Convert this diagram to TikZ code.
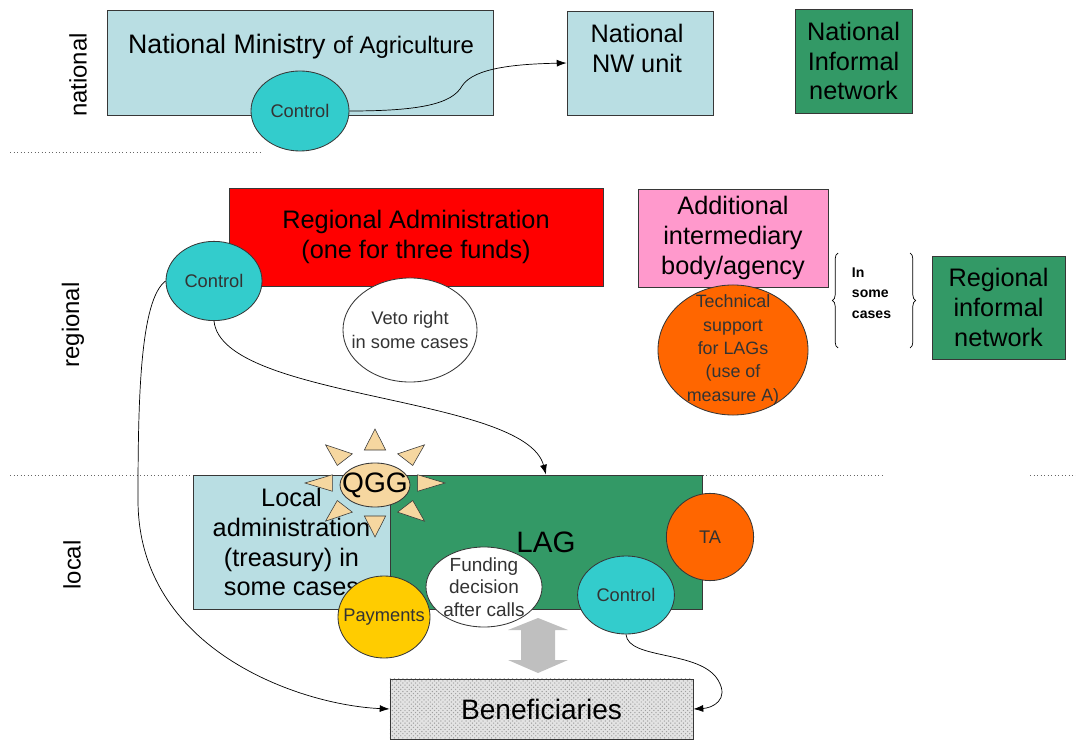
\documentclass[tikz,border=0pt]{standalone}
\usepackage{fontspec}
\setmainfont{Liberation Sans}
\usetikzlibrary{arrows.meta,shapes.geometric,patterns,decorations.pathreplacing}

\definecolor{paleblue}{RGB}{185,222,227}
\definecolor{lagreen}{RGB}{51,153,102}
\definecolor{ctrlteal}{RGB}{51,204,204}
\definecolor{pinkbox}{RGB}{255,153,204}
\definecolor{orangeball}{RGB}{255,102,0}
\definecolor{payyellow}{RGB}{255,204,0}
\definecolor{sunbeige}{RGB}{246,215,160}
\definecolor{edge}{RGB}{55,55,55}

\tikzset{
  box/.style={draw=edge, line width=0.6pt, inner sep=0pt, align=center},
  bubble/.style={ellipse, draw=edge, line width=0.6pt, inner sep=0pt},
  txt/.style={align=center, inner sep=0pt, text=black!80, font=\fontsize{13}{16.5}\selectfont},
  big/.style={font=\fontsize{18}{21.3}\selectfont},
  flow/.style={-{Latex[length=7pt,width=5pt]}, line width=0.5pt},
  level/.style={rotate=90, font=\fontsize{17}{20}\selectfont},
  sep/.style={dotted, line width=0.5pt, black!60},
  ray/.style={fill=sunbeige, draw=edge, line width=0.4pt},
}

\begin{document}
\begin{tikzpicture}[x=0.025cm, y=-0.025cm]
\useasboundingbox (0,0) rectangle (1076,740);

\draw[sep] (10,152) -- (260,152);
\draw[sep] (10,475) -- (885,475);
\draw[sep] (1030,475) -- (1076,475);

\node[level] (lnat) at (78,75) {national};
\node[level] (lreg) at (73,325) {regional};
\node[level] (lloc) at (72,565) {local};

% national level
\node[box, fill=paleblue, minimum width=9.65cm, minimum height=2.625cm] (ministry) at (300,62.5) {};
\node[font=\fontsize{19}{22}\selectfont] (ministrytxt) at (301,47)
  {National Ministry {\fontsize{17}{20}\selectfont of Agriculture}};
\node[box, fill=paleblue, minimum width=3.65cm, minimum height=2.6cm] (nwunit) at (640,63) {};
\node[big, align=center] (nwtxt) at (637,48) {National\\NW unit};
\node[box, big, fill=lagreen, minimum width=2.925cm, minimum height=2.6cm] (natnet) at (853.5,61)
  {National\\Informal\\network};
\node[bubble, fill=ctrlteal, minimum width=2.45cm, minimum height=2cm,
  label={[txt]center:Control}] (natctrl) at (300,111) {};

% regional level
\node[box, big, fill=red, minimum width=9.35cm, minimum height=2.45cm] (regadmin) at (416,237)
  {Regional Administration\\(one for three funds)};
\node[box, big, fill=pinkbox, minimum width=4.75cm, minimum height=2.45cm] (addbody) at (733,238)
  {Additional\\intermediary\\body/agency};
\node[box, big, fill=lagreen, minimum width=3.325cm, minimum height=2.575cm] (regnet) at (998.5,307.5)
  {Regional\\informal\\network};
\node[bubble, fill=ctrlteal, minimum width=2.4cm, minimum height=1.98cm,
  label={[txt]center:Control}] (regctrl) at (214,281) {};
\node[bubble, fill=white, minimum width=3.35cm, minimum height=2.6cm,
  label={[txt]center:Veto right\\in some cases}] (veto) at (410,330) {};
\node[bubble, fill=orangeball, minimum width=3.75cm, minimum height=3.25cm,
  label={[txt, font=\fontsize{12.7}{16.6}\selectfont]center:Technical\\support\\for LAGs\\(use of\\measure A)}]
  (techsup) at (733,350) {};
\draw[decorate, decoration={brace, amplitude=4pt}, line width=0.5pt] (838,348) -- (838,253);
\draw[decorate, decoration={brace, amplitude=4pt}, line width=0.5pt] (910,253) -- (910,348);
\node[anchor=west, align=left, font=\bfseries\fontsize{10}{14.5}\selectfont] (somecases) at (847,293)
  {In\\some\\cases};

% local level
\node[box, big, fill=paleblue, minimum width=4.925cm, minimum height=3.35cm] (localadm) at (291.5,542)
  {Local\\administration\\(treasury) in\\some cases};
\node[box, fill=lagreen, minimum width=7.8cm, minimum height=3.35cm,
  font=\fontsize{21}{24}\selectfont] (lag) at (546,542) {LAG};
\node[box, minimum width=7.575cm, minimum height=1.5cm, preaction={fill=gray!22},
  pattern=crosshatch dots, pattern color=gray!75, font=\fontsize{20}{24}\selectfont]
  (benef) at (541.5,709) {Beneficiaries};

\coordinate (sun) at (375,483);
\foreach \a in {0,45,...,315}
  \draw[ray, shift={(sun)}] (\a:70 and 54) -- (\a+14:44 and 34) -- (\a-14:44 and 34) -- cycle;
\node[bubble, fill=sunbeige, minimum width=1.75cm, minimum height=1.1cm,
  label={[txt, text=black, font=\fontsize{20}{24}\selectfont]center:QGG}] (qgg) at (375,485) {};

\node[bubble, fill=orangeball, minimum width=2.18cm, minimum height=2.18cm,
  label={[txt]center:TA}] (ta) at (710,537) {};
\node[bubble, fill=ctrlteal, minimum width=2.42cm, minimum height=1.95cm,
  label={[txt]center:Control}] (lagctrl) at (626,595) {};
\node[bubble, fill=white, minimum width=2.9cm, minimum height=2cm,
  label={[txt, font=\fontsize{13.5}{16}\selectfont]center:Funding\\decision\\after calls}] (funding) at (484,587) {};
\node[bubble, fill=payyellow, minimum width=2.3cm, minimum height=2.05cm,
  label={[txt]center:Payments}] (payments) at (384,617) {};

\fill[gray!50] (538,618) -- (568,630) -- (555,630) -- (555,660) -- (568,660) -- (538,673)
  -- (508,660) -- (521,660) -- (521,630) -- (508,630) -- cycle;

% connectors
\draw[flow] (natctrl.east) .. controls (420,111) and (452,104) .. (462,86)
  .. controls (474,67) and (520,64) .. (nwunit.west);
\draw[flow] (regctrl.south) .. controls (222,400) and (525,395) .. (lag.north);
\draw[flow] (regctrl.west) .. controls (140,300) and (138,400) .. (138,500)
  .. controls (138,650) and (300,705) .. (benef.west);
\draw[flow] (lagctrl.south) .. controls (628,660) and (700,650) .. (718,680)
  .. controls (730,700) and (712,708) .. (benef.east);
\end{tikzpicture}
\end{document}
